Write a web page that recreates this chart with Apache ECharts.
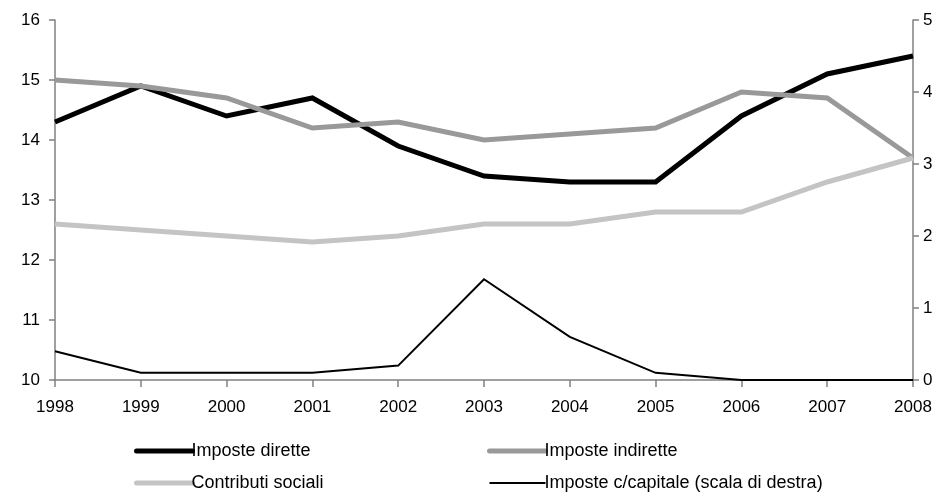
<!DOCTYPE html>
<html>
<head>
<meta charset="utf-8">
<script src="https://cdn.jsdelivr.net/npm/echarts@6/dist/echarts.min.js"></script>
<style>
  html, body { margin: 0; padding: 0; background: #fff; }
  #chart { width: 948px; height: 497px; }
</style>
</head>
<body>
<div id="chart"></div>
<script>
// Years on the horizontal axis
const years = ['1998', '1999', '2000', '2001', '2002', '2003', '2004', '2005', '2006', '2007', '2008'];

// Left scale (% of GDP)
const imposteDirette   = [14.3, 14.9, 14.4, 14.7, 13.9, 13.4, 13.3, 13.3, 14.4, 15.1, 15.4];
const imposteIndirette = [15.0, 14.9, 14.7, 14.2, 14.3, 14.0, 14.1, 14.2, 14.8, 14.7, 13.7];
const contributiSociali = [12.6, 12.5, 12.4, 12.3, 12.4, 12.6, 12.6, 12.8, 12.8, 13.3, 13.7];

// Right scale
const imposteCapitale = [0.4, 0.1, 0.1, 0.1, 0.2, 1.4, 0.6, 0.1, 0.0, 0.0, 0.0];

// Axis ranges
const leftMin = 10, leftMax = 16, leftStep = 1;
const rightMin = 0, rightMax = 5, rightStep = 1;

const names = [
  'Imposte dirette',
  'Imposte indirette',
  'Contributi sociali',
  'Imposte c/capitale (scala di destra)'
];

const axisGray = '#808080';
const tickFont = { fontFamily: "'Liberation Sans', Arial, sans-serif", fontSize: 17, color: '#000' };
const legendFont = { fontFamily: "'Liberation Sans', Arial, sans-serif", fontSize: 18, color: '#000' };

function lineSeries(name, data, color, width, yAxisIndex) {
  return {
    name: name,
    type: 'line',
    data: data,
    yAxisIndex: yAxisIndex,
    symbol: 'none',
    showSymbol: false,
    smooth: false,
    animation: false,
    lineStyle: { color: color, width: width, join: 'miter', cap: 'butt' },
    itemStyle: { color: color },
    emphasis: { disabled: true }
  };
}

function legendItem(name, color, width, cap) {
  return {
    name: name,
    itemStyle: { color: 'rgba(0,0,0,0)', borderWidth: 0, opacity: 0 },
    lineStyle: { width: width, cap: cap, color: color }
  };
}

function legendBlock(left, items) {
  return {
    orient: 'vertical',
    left: left,
    top: 442,
    padding: 0,
    itemWidth: 56,
    itemHeight: 18,
    itemGap: 14,
    selectedMode: false,
    textStyle: Object.assign({ padding: [0, 0, 0, -6] }, legendFont),
    data: items
  };
}

const chart = echarts.init(document.getElementById('chart'), null, { renderer: 'canvas' });

chart.setOption({
  backgroundColor: '#ffffff',
  animation: false,
  grid: { left: 55, right: 35, top: 20, bottom: 117, containLabel: false },
  legend: [
    legendBlock(134, [
      legendItem(names[0], '#000000', 5, 'round'),
      legendItem(names[2], '#c4c4c4', 5, 'round')
    ]),
    legendBlock(487, [
      legendItem(names[1], '#999999', 5, 'round'),
      legendItem(names[3], '#000000', 2, 'butt')
    ])
  ],
  xAxis: {
    type: 'category',
    data: years,
    boundaryGap: false,
    axisLine: { show: true, lineStyle: { color: axisGray, width: 1.5 } },
    axisTick: { show: true, alignWithLabel: true, length: 7, lineStyle: { color: axisGray, width: 1.5 } },
    axisLabel: Object.assign({ margin: 19 }, tickFont),
    splitLine: { show: false }
  },
  yAxis: [
    {
      type: 'value',
      position: 'left',
      min: leftMin,
      max: leftMax,
      interval: leftStep,
      axisLine: { show: true, lineStyle: { color: axisGray, width: 1.5 } },
      axisTick: { show: true, length: 6, lineStyle: { color: axisGray, width: 1.5 } },
      axisLabel: Object.assign({ margin: 15 }, tickFont),
      splitLine: { show: false }
    },
    {
      type: 'value',
      position: 'right',
      min: rightMin,
      max: rightMax,
      interval: rightStep,
      axisLine: { show: true, lineStyle: { color: axisGray, width: 1.5 } },
      axisTick: { show: true, length: 6, lineStyle: { color: axisGray, width: 1.5 } },
      axisLabel: Object.assign({ margin: 10 }, tickFont),
      splitLine: { show: false }
    }
  ],
  series: [
    lineSeries(names[0], imposteDirette, '#000000', 5, 0),
    lineSeries(names[1], imposteIndirette, '#999999', 5, 0),
    lineSeries(names[2], contributiSociali, '#c4c4c4', 5, 0),
    lineSeries(names[3], imposteCapitale, '#000000', 2, 1)
  ]
});
</script>
</body>
</html>
